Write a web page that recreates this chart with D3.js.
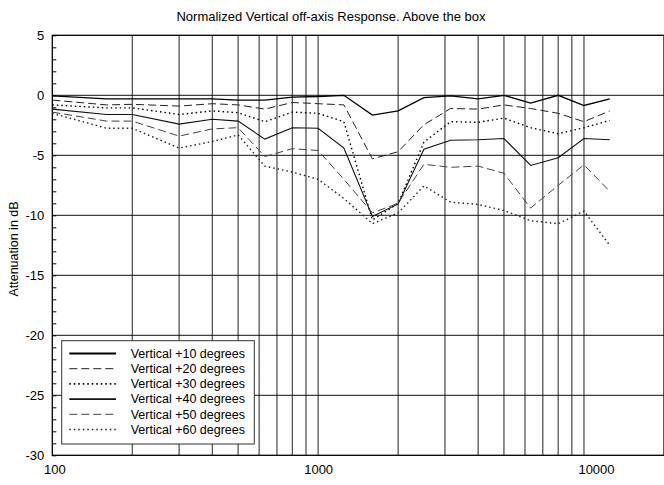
<!DOCTYPE html>
<html><head><meta charset="utf-8">
<script src="https://cdn.jsdelivr.net/npm/d3@7"></script>
<style>
body{margin:0;background:#fff;}
text{font-family:"Liberation Sans",Arial,sans-serif;fill:#000;}
</style></head>
<body><svg id="c" width="664" height="485"></svg>
<script>
const freqs = [100,160,200,300,400,500,630,800,1000,1250,1600,2000,2500,3150,4000,5000,6300,8000,10000,12500];
const v10 = [-0.05,-0.3,-0.3,-0.3,-0.3,-0.4,-0.4,-0.15,-0.1,0,-1.65,-1.3,-0.2,-0.05,-0.3,0,-0.65,0,-0.85,-0.3];
const v20 = [-0.4,-0.8,-0.75,-0.9,-0.7,-0.8,-1.15,-0.6,-0.7,-0.8,-5.3,-4.7,-2.45,-1.1,-1.15,-0.8,-1.1,-1.5,-2.2,-1.3];
const v30 = [-0.8,-1.05,-1.05,-1.6,-1.3,-1.45,-2.2,-1.4,-1.5,-2.2,-10.4,-9.0,-3.9,-2.2,-2.25,-1.9,-2.7,-3.2,-2.7,-2.1];
const v40 = [-1.15,-1.6,-1.6,-2.4,-2.0,-2.15,-3.65,-2.7,-2.75,-4.4,-10.1,-9.05,-4.5,-3.75,-3.7,-3.6,-5.85,-5.2,-3.6,-3.7];
const v50 = [-1.4,-2.15,-2.15,-3.4,-2.8,-2.7,-5.1,-4.45,-4.6,-7.0,-9.8,-9.0,-5.75,-6.0,-5.9,-6.5,-9.4,-7.5,-5.8,-8.0];
const v60 = [-1.5,-2.75,-2.75,-4.4,-3.85,-3.3,-5.9,-6.4,-7.0,-8.6,-10.7,-9.8,-7.55,-8.9,-9.1,-9.6,-10.45,-10.7,-9.65,-12.5];
const seriesNames = ["Vertical +10 degrees","Vertical +20 degrees","Vertical +30 degrees","Vertical +40 degrees","Vertical +50 degrees","Vertical +60 degrees"];
const xTicks = [100,1000,10000];
const yTicks = [5,0,-5,-10,-15,-20,-25,-30];
const xGrid = [200,300,400,500,600,700,800,900,1000,2000,3000,4000,5000,6000,7000,8000,9000,10000];

const styles = [
  {stroke:"#000", w:1.3, dash:null, lw:2.2},
  {stroke:"#222", w:1, dash:"8,4", lw:1},
  {stroke:"#000", w:1.4, dash:"1.5,3", lw:1.6},
  {stroke:"#111", w:1.1, dash:null, lw:1.6},
  {stroke:"#444", w:1, dash:"8,4", lw:1},
  {stroke:"#222", w:1.4, dash:"1.5,3", lw:1.6}
];
const allSeries = [v10,v20,v30,v40,v50,v60];

const svg = d3.select("#c");
const x = d3.scaleLog().domain([100,20000]).range([52.3,664]);
const y = d3.scaleLinear().domain([-30,5]).range([455.3,35.3]);

// title
svg.append("text").attr("x",331).attr("y",21).attr("text-anchor","middle")
  .attr("font-size",13).text("Normalized Vertical off-axis Response. Above the box");
// y label
svg.append("text").attr("transform","translate(18,249) rotate(-90)").attr("text-anchor","middle")
  .attr("font-size",12.5).text("Attenuation in dB");

// vertical grid
svg.append("g").selectAll("line").data(xGrid).join("line")
  .attr("x1",d=>x(d)).attr("x2",d=>x(d)).attr("y1",y(5)).attr("y2",y(-30))
  .attr("stroke","#555").attr("stroke-width",1.3);
// horizontal grid
svg.append("g").selectAll("line").data(yTicks.filter(d=>d<5&&d>-30)).join("line")
  .attr("x1",x(100)).attr("x2",x(20000)).attr("y1",d=>y(d)).attr("y2",d=>y(d))
  .attr("stroke","#111").attr("stroke-width",1);

// frame
svg.append("rect").attr("x",x(100)).attr("y",y(5)).attr("width",x(20000)-x(100)).attr("height",y(-30)-y(5))
  .attr("fill","none").attr("stroke","#000").attr("stroke-width",1.3);

// minor y ticks (inward)
const minor = d3.range(-30,6,1);
svg.append("g").attr("transform",`translate(${x(100)},0)`)
  .call(d3.axisRight(y).tickValues(minor).tickSize(4).tickFormat(""))
  .call(g=>g.select(".domain").remove())
  .call(g=>g.selectAll("line").attr("stroke","#000"));

const fmt = d => String(d);
// y axis labels
svg.append("g").attr("transform",`translate(${x(100)},0)`)
  .call(d3.axisLeft(y).tickValues(yTicks).tickSize(0).tickPadding(8).tickFormat(fmt))
  .call(g=>g.select(".domain").remove())
  .call(g=>g.selectAll("text").attr("font-size",13).attr("font-family","Liberation Sans, Arial, sans-serif").attr("fill","#000"));

// x axis labels
svg.append("g").attr("transform",`translate(0,${y(-30)})`)
  .call(d3.axisBottom(x).tickValues(xTicks).tickSize(0).tickPadding(9).tickFormat(fmt))
  .call(g=>g.select(".domain").remove())
  .call(g=>g.selectAll("text").attr("font-size",13).attr("font-family","Liberation Sans, Arial, sans-serif").attr("fill","#000")
    .attr("dx",(d,i)=>i===2?12:(i===0?2:0)));

// lines
const line = d3.line().x((d,i)=>x(freqs[i])).y(d=>y(d));
allSeries.forEach((s,k)=>{
  const st = styles[k];
  svg.append("path").datum(s).attr("d",line).attr("fill","none")
    .attr("stroke",st.stroke).attr("stroke-width",st.w)
    .attr("stroke-dasharray",st.dash);
});

// legend
const lg = svg.append("g");
lg.append("rect").attr("x",61.7).attr("y",340.7).attr("width",192.6).attr("height",103.3)
  .attr("fill","#fff").attr("stroke","#333").attr("stroke-width",1);
seriesNames.forEach((n,k)=>{
  const st = styles[k];
  const yy = 353.5 + k*15.2;
  lg.append("line").attr("x1",69.3).attr("x2",116).attr("y1",yy).attr("y2",yy)
    .attr("stroke",st.stroke).attr("stroke-width",st.lw).attr("stroke-dasharray",st.dash);
  lg.append("text").attr("x",130.7).attr("y",yy+4.3).attr("font-size",12.5).text(n);
});
</script></body></html>
